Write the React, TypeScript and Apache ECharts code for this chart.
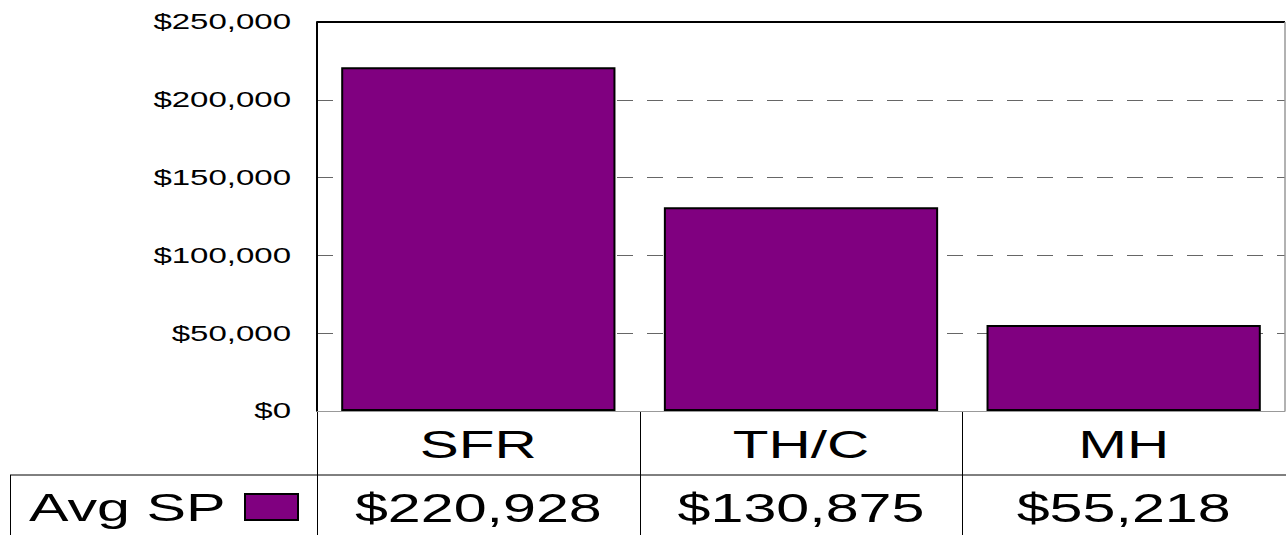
import React, { useEffect, useRef } from "react";
import * as echarts from "echarts";

const categories = ["SFR", "TH/C", "MH"];
const avgSP = [220928, 130875, 55218];
const seriesName = "Avg SP";
const yTicks = [0, 50000, 100000, 150000, 200000, 250000];

const fmt = (v: number) => "$" + v.toLocaleString("en-US");

export default function App() {
  const ref = useRef<HTMLDivElement>(null);
  useEffect(() => {
    const chart = echarts.init(ref.current!, null, { renderer: "svg" });
    const purple = "#800080";
    const font = "'Liberation Sans', Arial, sans-serif";
    const W = 1286;
    const H = 535;
    chart.setOption({
      animation: false,
      grid: { left: 317, right: 1, top: 22, bottom: 124 },
      xAxis: {
        type: "category",
        data: categories,
        axisLine: { show: true, lineStyle: { color: "#999", width: 1 } },
        axisTick: { show: false },
        axisLabel: { show: false },
      },
      yAxis: {
        type: "value",
        min: 0,
        max: 250000,
        interval: 50000,
        axisLine: { show: true, lineStyle: { color: "#000", width: 2 } },
        axisTick: { show: false },
        axisLabel: { show: false },
        splitLine: { show: true, lineStyle: { type: [16, 14], color: "#666", width: 1 } },
      },
      series: [
        {
          type: "bar",
          name: seriesName,
          data: avgSP,
          barWidth: "85%",
          itemStyle: { color: purple, borderColor: "#000", borderWidth: 2 },
        },
      ],
    });

    const graphics: any[] = [];
    const gl = 317, gt = 22, gr = W - 1, gb = 411;
    // plot frame: top black, right gray
    graphics.push({ type: "line", shape: { x1: gl, y1: gt, x2: gr, y2: gt }, style: { stroke: "#000", lineWidth: 2 } });
    graphics.push({ type: "line", shape: { x1: gr, y1: gt, x2: gr, y2: gb }, style: { stroke: "#999", lineWidth: 1.5 } });

    // y labels
    yTicks.forEach((v) => {
      const y = chart.convertToPixel({ yAxisIndex: 0 }, v) as number;
      graphics.push({
        type: "text",
        x: 291,
        y,
        scaleX: 1.5,
        style: { text: fmt(v), fontSize: 22, fontFamily: font, fill: "#000", textAlign: "right", textVerticalAlign: "middle" },
      });
    });

    // data table
    const rowTop = gb;
    const rowMid = 475;
    const rowBot = H;
    const lineStyle = { stroke: "#000", lineWidth: 1 };
    graphics.push({ type: "line", shape: { x1: 10, y1: rowMid, x2: W, y2: rowMid }, style: lineStyle });
    graphics.push({ type: "line", shape: { x1: 10.5, y1: rowMid, x2: 10.5, y2: rowBot }, style: lineStyle });
    graphics.push({ type: "line", shape: { x1: gl + 0.5, y1: rowTop, x2: gl + 0.5, y2: rowBot }, style: lineStyle });
    const catW = (gr - gl) / categories.length;
    for (let i = 1; i < categories.length; i++) {
      const x = Math.round(gl + catW * i) + 0.5;
      graphics.push({ type: "line", shape: { x1: x, y1: rowTop, x2: x, y2: rowBot }, style: lineStyle });
    }
    categories.forEach((c, i) => {
      const x = chart.convertToPixel({ xAxisIndex: 0 }, c) as number;
      graphics.push({
        type: "text",
        x,
        y: 445,
        scaleX: 1.5,
        style: { text: c, fontSize: 39, fontFamily: font, fill: "#000", textAlign: "center", textVerticalAlign: "middle" },
      });
      graphics.push({
        type: "text",
        x,
        y: 508,
        scaleX: 1.48,
        style: { text: fmt(avgSP[i]), fontSize: 40, fontFamily: font, fill: "#000", textAlign: "center", textVerticalAlign: "middle" },
      });
    });
    // legend key
    graphics.push({
      type: "text",
      x: 29,
      y: 508,
      scaleX: 1.52,
      style: { text: seriesName, fontSize: 39, fontFamily: font, fill: "#000", textAlign: "left", textVerticalAlign: "middle" },
    });
    graphics.push({ type: "rect", shape: { x: 245, y: 494, width: 53, height: 26 }, style: { fill: purple, stroke: "#000", lineWidth: 2 } });

    chart.setOption({ graphic: graphics });
    return () => chart.dispose();
  }, []);
  return <div ref={ref} style={{ position: "fixed", left: 0, top: 0, width: 1286, height: 535, background: "#fff" }} />;
}
